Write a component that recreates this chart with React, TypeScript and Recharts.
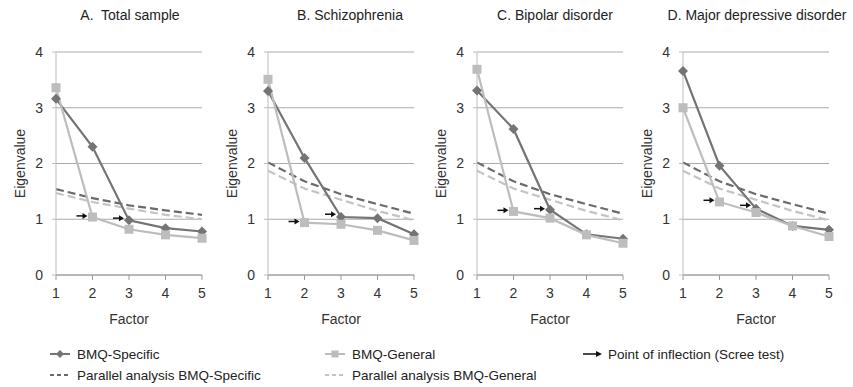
import { LineChart, Line, XAxis, YAxis, CartesianGrid } from "recharts";

const factors = [1, 2, 3, 4, 5];
const yTicks = [0, 1, 2, 3, 4];

const titles = [
  "A.  Total sample",
  "B. Schizophrenia",
  "C. Bipolar disorder",
  "D. Major depressive disorder",
];

// eigenvalues
const specificA = [3.16, 2.3, 0.98, 0.84, 0.78];
const generalA = [3.36, 1.04, 0.82, 0.72, 0.66];
const parallelSpecificA = [1.54, 1.38, 1.25, 1.16, 1.08];
const parallelGeneralA = [1.47, 1.31, 1.19, 1.08, 1.0];
const inflectionA = [null, 1.06, 1.02, null, null];

const specificB = [3.3, 2.1, 1.04, 1.02, 0.73];
const generalB = [3.51, 0.94, 0.91, 0.8, 0.62];
const parallelSpecificB = [2.02, 1.68, 1.45, 1.27, 1.1];
const parallelGeneralB = [1.87, 1.55, 1.35, 1.15, 0.98];
const inflectionB = [null, 0.96, 1.09, null, null];

const specificC = [3.31, 2.62, 1.17, 0.73, 0.65];
const generalC = [3.69, 1.14, 1.02, 0.72, 0.57];
const parallelSpecificC = [2.02, 1.68, 1.45, 1.27, 1.1];
const parallelGeneralC = [1.87, 1.55, 1.35, 1.15, 0.98];
const inflectionC = [null, 1.16, 1.19, null, null];

const specificD = [3.66, 1.96, 1.19, 0.88, 0.81];
const generalD = [3.0, 1.31, 1.12, 0.88, 0.69];
const parallelSpecificD = [2.02, 1.68, 1.45, 1.27, 1.1];
const parallelGeneralD = [1.87, 1.55, 1.35, 1.15, 0.98];
const inflectionD = [null, 1.34, 1.25, null, null];

const panels = [
  [specificA, generalA, parallelSpecificA, parallelGeneralA, inflectionA],
  [specificB, generalB, parallelSpecificB, parallelGeneralB, inflectionB],
  [specificC, generalC, parallelSpecificC, parallelGeneralC, inflectionC],
  [specificD, generalD, parallelSpecificD, parallelGeneralD, inflectionD],
];

const DARK = "#747474";
const LIGHT = "#bdbdbd";
const FONT = "'Liberation Sans', Arial, sans-serif";

const chartLefts = [6, 218, 427, 633];
const titleCenters = [130, 350, 555, 757];

function buildRows(p: any[]) {
  return factors.map((f, i) => ({
    f,
    spec: p[0][i],
    gen: p[1][i],
    paSpec: p[2][i],
    paGen: p[3][i],
    arrow: p[4][i],
  }));
}

const diamond = (props: any) => {
  const { cx, cy, index } = props;
  if (cx == null || cy == null) return <g key={`d${index}`} />;
  return (
    <path
      key={`d${index}`}
      d={`M${cx},${cy - 5}L${cx + 5},${cy}L${cx},${cy + 5}L${cx - 5},${cy}Z`}
      fill={DARK}
    />
  );
};

const square = (props: any) => {
  const { cx, cy, index } = props;
  if (cx == null || cy == null) return <g key={`s${index}`} />;
  return <rect key={`s${index}`} x={cx - 4.5} y={cy - 4.5} width={9} height={9} fill={LIGHT} />;
};

const arrow = (props: any) => {
  const { cx, cy, index, value } = props;
  if (cx == null || cy == null || value == null) return <g key={`a${index}`} />;
  const tip = cx - 5;
  return (
    <g key={`a${index}`}>
      <line x1={cx - 16} y1={cy} x2={tip - 3} y2={cy} stroke="#111" strokeWidth={1.5} />
      <path d={`M${tip},${cy}L${tip - 5},${cy - 3}L${tip - 5},${cy + 3}Z`} fill="#111" />
    </g>
  );
};

// rotated y axis title, drawn by hand so the colour sticks
const yLabel = (props: any) => {
  const vb = props.viewBox || {};
  const x = vb.x + vb.width / 2 - 11;
  const y = vb.y + vb.height / 2;
  return (
    <text
      x={x}
      y={y}
      transform={`rotate(-90 ${x} ${y})`}
      textAnchor="middle"
      dominantBaseline="central"
      fill="#333"
      fontSize={14}
      fontFamily={FONT}
    >
      Eigenvalue
    </text>
  );
};

function Panel({ idx }: { idx: number }) {
  const rows = buildRows(panels[idx]);
  return (
    <div style={{ position: "absolute", left: chartLefts[idx], top: 0 }}>
      <LineChart
        width={210}
        height={340}
        data={rows}
        margin={{ top: 52, right: 14, left: 0, bottom: 15 }}
      >
        <CartesianGrid horizontal vertical={false} stroke="#ababab" strokeWidth={1} />
        <XAxis
          dataKey="f"
          type="number"
          domain={[1, 5]}
          ticks={factors}
          allowDecimals={false}
          height={50}
          stroke="#9a9a9a"
          tickSize={5}
          tickMargin={8}
          tick={{ fill: "#333", fontSize: 14, fontFamily: FONT }}
          label={{ value: "Factor", position: "center", dy: 19, fill: "#333", fontSize: 14, fontFamily: FONT }}
        />
        <YAxis
          type="number"
          domain={[0, 4]}
          ticks={yTicks}
          width={50}
          stroke="#bdbdbd"
          tickSize={4}
          tickMargin={9}
          tick={{ fill: "#333", fontSize: 14, fontFamily: FONT }}
          label={yLabel}
        />
        <Line dataKey="paSpec" stroke="#6b6b6b" strokeWidth={2.2} strokeDasharray="8 4" dot={false} isAnimationActive={false} />
        <Line dataKey="paGen" stroke="#c4c4c4" strokeWidth={2.2} strokeDasharray="8 4" dot={false} isAnimationActive={false} />
        <Line dataKey="spec" stroke={DARK} strokeWidth={2.2} dot={diamond} isAnimationActive={false} />
        <Line dataKey="gen" stroke={LIGHT} strokeWidth={2.2} dot={square} isAnimationActive={false} />
        <Line dataKey="arrow" stroke="none" dot={arrow} activeDot={false} isAnimationActive={false} />
      </LineChart>
    </div>
  );
}

function LegendBlock() {
  const txt = { fontSize: 13.5, fontFamily: FONT, fill: "#222" };
  return (
    <svg width={853} height={47} style={{ position: "absolute", left: 0, top: 340 }}>
      {/* row 1 */}
      <line x1={50} y1={14} x2={70} y2={14} stroke={DARK} strokeWidth={2} />
      <path d="M60,10L64,14L60,18L56,14Z" fill={DARK} />
      <text x={77} y={19} {...txt}>BMQ-Specific</text>
      <line x1={325} y1={14} x2={345} y2={14} stroke={LIGHT} strokeWidth={2} />
      <rect x={331.5} y={10.5} width={7} height={7} fill={LIGHT} />
      <text x={352} y={19} {...txt}>BMQ-General</text>
      <line x1={583} y1={14} x2={596} y2={14} stroke="#111" strokeWidth={1.5} />
      <path d="M602,14L596,11L596,17Z" fill="#111" />
      <text x={608} y={19} {...txt}>Point of inflection (Scree test)</text>
      {/* row 2 */}
      <line x1={50} y1={35} x2={70} y2={35} stroke="#6b6b6b" strokeWidth={2} strokeDasharray="4 3" />
      <text x={77} y={40} {...txt}>Parallel analysis BMQ-Specific</text>
      <line x1={325} y1={35} x2={345} y2={35} stroke="#c4c4c4" strokeWidth={2} strokeDasharray="4 3" />
      <text x={352} y={40} {...txt}>Parallel analysis BMQ-General</text>
    </svg>
  );
}

export default function App() {
  return (
    <div style={{ position: "absolute", left: 0, top: 0, width: 853, height: 387, background: "#fff", fontFamily: FONT }}>
      {titles.map((t, i) => (
        <div
          key={t}
          style={{
            position: "absolute",
            top: 7,
            left: titleCenters[i] - 110,
            width: 220,
            textAlign: "center",
            fontSize: 14,
            color: "#222",
            whiteSpace: "pre",
            lineHeight: "17px",
          }}
        >
          {t}
        </div>
      ))}
      {titles.map((t, i) => (
        <Panel key={`p${t}`} idx={i} />
      ))}
      <LegendBlock />
    </div>
  );
}
